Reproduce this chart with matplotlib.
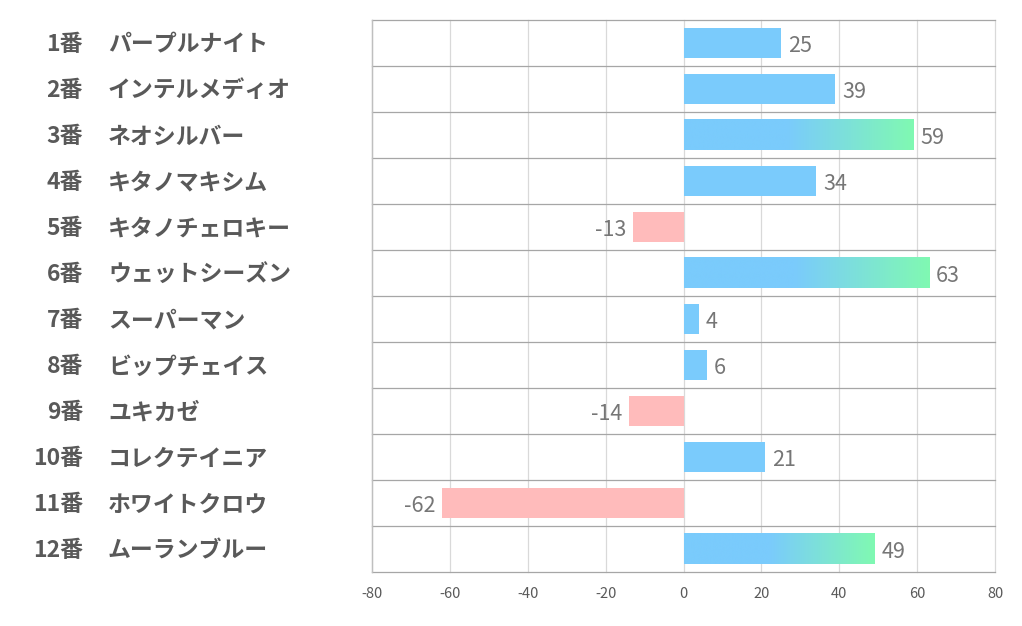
import matplotlib
matplotlib.use("Agg")
import matplotlib.pyplot as plt
import numpy as np
from matplotlib.colors import LinearSegmentedColormap

numbers = ["1番", "2番", "3番", "4番", "5番", "6番", "7番", "8番", "9番", "10番", "11番", "12番"]
names = ["パープルナイト", "インテルメディオ", "ネオシルバー", "キタノマキシム", "キタノチェロキー",
         "ウェットシーズン", "スーパーマン", "ビップチェイス", "ユキカゼ", "コレクテイニア",
         "ホワイトクロウ", "ムーランブルー"]
values = [25, 39, 59, 34, -13, 63, 4, 6, -14, 21, -62, 49]
xticks = [-80, -60, -40, -20, 0, 20, 40, 60, 80]

plt.rcParams['font.family'] = ['Noto Sans CJK JP', 'DejaVu Sans']

W, H = 1022, 626
fig = plt.figure(figsize=(W / 100, H / 100), dpi=100)
left, right, top, bottom = 372, 995, 20, 572
ax = fig.add_axes([left / W, 1 - bottom / H, (right - left) / W, (bottom - top) / H])

n = len(values)
ys = np.arange(n)
blue = "#7ACBFC"
green = "#80F9B2"
pink = "#FFBBBB"
bh = 0.67

cmap = LinearSegmentedColormap.from_list("bg", [(0, blue), (0.45, blue), (1, green)])
for y, v in zip(ys, values):
    color = blue if v >= 0 else pink
    if v >= 45:
        grad = np.linspace(0, 1, 512).reshape(1, -1)
        ax.imshow(grad, extent=[0, v, y + bh / 2, y - bh / 2], cmap=cmap,
                  aspect='auto', zorder=4, interpolation='bilinear')
    else:
        ax.barh(y, v, height=bh, color=color, zorder=3)

ax.set_xlim(-80, 80)
ax.set_ylim(n - 0.5, -0.5)

# value labels
for y, v in zip(ys, values):
    if v >= 0:
        ax.annotate(str(v), (v, y), xytext=(5, -2), textcoords='offset points',
                    ha='left', va='center', fontsize=15.5, color="#767676", zorder=5)
    else:
        ax.annotate(str(v), (v, y), xytext=(-5, -2), textcoords='offset points',
                    ha='right', va='center', fontsize=15.5, color="#767676", zorder=5)

# grid
for x in xticks:
    ax.axvline(x, color="#D9D9D9", lw=0.9, zorder=1, clip_on=False)
for yb in np.arange(-0.5, n, 1):
    ax.axhline(yb, color="#A6A6A6", lw=0.9, zorder=2, clip_on=False)
ax.axvline(-80, color="#BFBFBF", lw=1.0, zorder=2, clip_on=False)

for s in ax.spines.values():
    s.set_visible(False)
ax.set_xticks(xticks)
ax.set_xticklabels([str(x) for x in xticks], fontsize=10.5, color="#595959")
ax.tick_params(axis='x', length=0, pad=11)
ax.set_yticks([])

# category labels
for y, num, name in zip(ys, numbers, names):
    disp = ax.transData.transform((0, y))[1]
    fy = disp / H
    fig.text(83 / W, fy - 0.003, num, ha='right', va='center', fontsize=16.5,
             fontweight='bold', color="#595959")
    fig.text(108 / W, fy - 0.003, name, ha='left', va='center', fontsize=16.5,
             fontweight='bold', color="#595959")

fig.savefig("out.png", dpi=100, facecolor="white")
